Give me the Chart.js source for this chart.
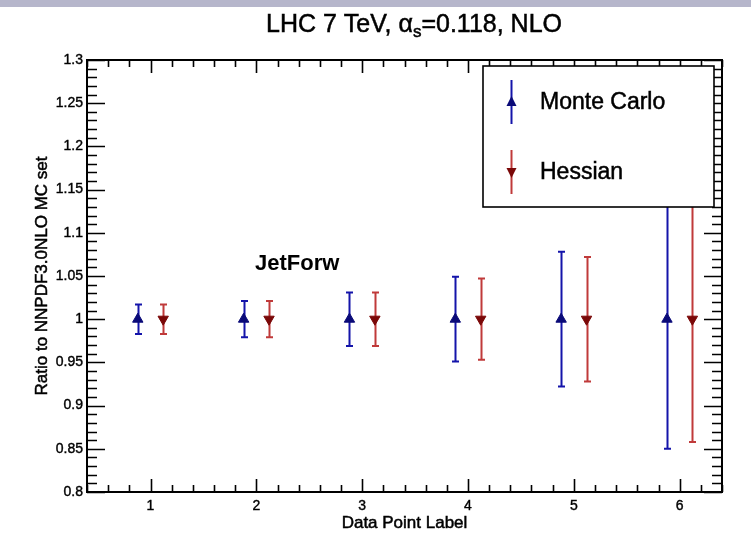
<!DOCTYPE html>
<html>
<head>
<meta charset="utf-8">
<script src="https://cdn.jsdelivr.net/npm/chart.js@4/dist/chart.umd.min.js"></script>
<style>
  html, body { margin: 0; padding: 0; background: #fff; }
  #ratioChart { display: block; }
</style>
</head>
<body>
<canvas id="ratioChart" width="751" height="545"></canvas>
<script>
const pointLabels = [1, 2, 3, 4, 5, 6];
const seriesOffset = 0.12;

const mcRatio = [1.0, 1.0, 1.0, 1.0, 1.0, 1.0];
const mcError = [0.017, 0.021, 0.031, 0.049, 0.078, 0.150];
const hessRatio = [1.0, 1.0, 1.0, 1.0, 1.0, 1.0];
const hessError = [0.017, 0.021, 0.031, 0.047, 0.072, 0.142];

const xRange = [0.4, 6.4];
const yRange = [0.8, 1.3];
const yTicks = [0.8, 0.85, 0.9, 0.95, 1.0, 1.05, 1.1, 1.15, 1.2, 1.25, 1.3];

const FONT = '"Liberation Sans", Arial, Helvetica, sans-serif';

function toPoints(offset, ratio) {
  return pointLabels.map((p, i) => ({ x: p + offset, y: ratio[i] }));
}

// major/minor tick values for the frame
function tickValues(min, max, step) {
  const out = [];
  const n = Math.round((max - min) / step);
  for (let i = 0; i <= n; i++) out.push(+(min + i * step).toFixed(4));
  return out;
}

// text with a thin outline so it reads a little heavier
function heavyText(ctx, text, x, y) {
  ctx.lineWidth = 0.5;
  ctx.strokeStyle = ctx.fillStyle;
  ctx.strokeText(text, x, y);
  ctx.fillText(text, x, y);
}

const frame = {
  id: 'frame',
  beforeDraw(chart) {
    const ctx = chart.ctx;
    ctx.save();
    ctx.fillStyle = '#fff';
    ctx.fillRect(0, 0, chart.width, chart.height);
    ctx.fillStyle = '#b6b6cb';
    ctx.fillRect(0, 0, chart.width, 7);
    ctx.restore();
  },
  beforeDatasetsDraw(chart) {
    const ctx = chart.ctx;
    const x = chart.scales.x, y = chart.scales.y;
    const a = chart.chartArea;

    ctx.save();
    ctx.strokeStyle = '#000';
    ctx.lineWidth = 1.6;
    ctx.beginPath();
    // y ticks on left and right
    tickValues(yRange[0], yRange[1], 0.01).forEach(v => {
      const major = Math.abs(v * 20 - Math.round(v * 20)) < 1e-6;
      const len = major ? 18 : 10;
      const py = Math.round(y.getPixelForValue(v)) + 0.5;
      ctx.moveTo(a.left, py); ctx.lineTo(a.left + len, py);
      ctx.moveTo(a.right, py); ctx.lineTo(a.right - len, py);
    });
    // x ticks on bottom and top
    tickValues(xRange[0], xRange[1], 0.2).forEach(v => {
      const major = Math.abs(v - Math.round(v)) < 1e-6;
      const len = major ? 13 : 7;
      const px = Math.round(x.getPixelForValue(v)) + 0.5;
      ctx.moveTo(px, a.bottom); ctx.lineTo(px, a.bottom - len);
      ctx.moveTo(px, a.top); ctx.lineTo(px, a.top + len);
    });
    ctx.stroke();

    ctx.lineWidth = 2;
    ctx.strokeRect(a.left, a.top, a.right - a.left, a.bottom - a.top);

    // vertical error bars with small caps
    const bars = [
      { offset: -seriesOffset, ratio: mcRatio, err: mcError, color: '#1414aa' },
      { offset: seriesOffset, ratio: hessRatio, err: hessError, color: '#c03a3a' }
    ];
    ctx.beginPath();
    ctx.rect(a.left, a.top, a.right - a.left, a.bottom - a.top);
    ctx.clip();
    ctx.lineWidth = 2;
    bars.forEach(b => {
      ctx.strokeStyle = b.color;
      ctx.beginPath();
      pointLabels.forEach((p, i) => {
        const px = Math.round(x.getPixelForValue(p + b.offset)) + 0.5;
        const top = y.getPixelForValue(b.ratio[i] + b.err[i]);
        const bot = y.getPixelForValue(b.ratio[i] - b.err[i]);
        ctx.moveTo(px, top); ctx.lineTo(px, bot);
        ctx.moveTo(px - 3.5, top); ctx.lineTo(px + 3.5, top);
        ctx.moveTo(px - 3.5, bot); ctx.lineTo(px + 3.5, bot);
      });
      ctx.stroke();
    });
    ctx.restore();
  },
  afterDraw(chart) {
    const ctx = chart.ctx;
    const a = chart.chartArea;
    ctx.save();
    ctx.fillStyle = '#000';

    // title with alpha_s subscript
    const mainFont = '25px ' + FONT;
    const subFont = '17px ' + FONT;
    const parts = [
      { t: 'LHC 7 TeV, \u03b1', f: mainFont, dy: 0 },
      { t: 's', f: subFont, dy: 5 },
      { t: '=0.118, NLO', f: mainFont, dy: 0 }
    ];
    let total = 0;
    parts.forEach(p => { ctx.font = p.f; p.w = ctx.measureText(p.t).width; total += p.w; });
    let tx = 414 - total / 2;
    ctx.textBaseline = 'alphabetic';
    ctx.textAlign = 'left';
    parts.forEach(p => { ctx.font = p.f; heavyText(ctx, p.t, tx, 32 + p.dy); tx += p.w; });

    // axis titles
    ctx.font = '17px ' + FONT;
    ctx.textAlign = 'center';
    ctx.textBaseline = 'middle';
    heavyText(ctx, 'Data Point Label', (a.left + a.right) / 2, 523);
    ctx.save();
    ctx.translate(42, (a.top + a.bottom) / 2);
    ctx.rotate(-Math.PI / 2);
    heavyText(ctx, 'Ratio to NNPDF3.0NLO MC set', 0, 0);
    ctx.restore();

    // dataset tag
    ctx.font = 'bold 22px ' + FONT;
    ctx.textAlign = 'left';
    ctx.textBaseline = 'alphabetic';
    ctx.fillText('JetForw', 255, 270);

    // legend box
    const lx = 483, ly = 66, lw = 231, lh = 141;
    ctx.fillStyle = '#fff';
    ctx.fillRect(lx, ly, lw, lh);
    ctx.strokeStyle = '#000';
    ctx.lineWidth = 1.6;
    ctx.strokeRect(lx, ly, lw, lh);

    const entries = [
      { label: chart.data.datasets[0].label, cy: 102, line: '#1414aa', fill: '#0a0a78', up: true },
      { label: chart.data.datasets[1].label, cy: 172, line: '#c03a3a', fill: '#7a0808', up: false }
    ];
    entries.forEach(e => {
      ctx.strokeStyle = e.line;
      ctx.lineWidth = 2;
      ctx.beginPath();
      ctx.moveTo(511.5, e.cy - 22); ctx.lineTo(511.5, e.cy + 22);
      ctx.stroke();
      ctx.fillStyle = e.fill;
      ctx.beginPath();
      if (e.up) {
        ctx.moveTo(511.5, e.cy - 6); ctx.lineTo(516.5, e.cy + 4); ctx.lineTo(506.5, e.cy + 4);
      } else {
        ctx.moveTo(511.5, e.cy + 6); ctx.lineTo(516.5, e.cy - 4); ctx.lineTo(506.5, e.cy - 4);
      }
      ctx.closePath();
      ctx.fill();
      ctx.fillStyle = '#000';
      ctx.font = '23px ' + FONT;
      ctx.textBaseline = 'middle';
      heavyText(ctx, e.label, 540, e.cy + 1);
    });
    ctx.restore();
  }
};

new Chart(document.getElementById('ratioChart'), {
  type: 'scatter',
  data: {
    datasets: [
      {
        label: 'Monte Carlo',
        data: toPoints(-seriesOffset, mcRatio),
        pointStyle: 'triangle',
        pointRadius: 6,
        pointHoverRadius: 6,
        backgroundColor: '#0a0a78',
        borderColor: '#0a0a78',
        borderWidth: 1
      },
      {
        label: 'Hessian',
        data: toPoints(seriesOffset, hessRatio),
        pointStyle: 'triangle',
        pointRotation: 180,
        pointRadius: 6,
        pointHoverRadius: 6,
        backgroundColor: '#7a0808',
        borderColor: '#7a0808',
        borderWidth: 1
      }
    ]
  },
  options: {
    responsive: false,
    animation: false,
    devicePixelRatio: 1,
    layout: { padding: { top: 60, right: 29, left: 0, bottom: 0 } },
    plugins: { legend: { display: false }, tooltip: { enabled: false } },
    scales: {
      x: {
        type: 'linear',
        min: xRange[0],
        max: xRange[1],
        afterBuildTicks: axis => { axis.ticks = pointLabels.map(v => ({ value: v })); },
        afterFit: axis => { axis.height = 53; },
        grid: { display: false, drawTicks: false },
        border: { display: false },
        ticks: {
          font: { family: FONT, size: 14 },
          color: '#000',
          textStrokeColor: '#000',
          textStrokeWidth: 0.4,
          padding: 6
        }
      },
      y: {
        type: 'linear',
        min: yRange[0],
        max: yRange[1],
        afterBuildTicks: axis => { axis.ticks = yTicks.map(v => ({ value: v })); },
        afterFit: axis => { axis.width = 87; },
        grid: { display: false, drawTicks: false },
        border: { display: false },
        ticks: {
          font: { family: FONT, size: 14 },
          color: '#000',
          textStrokeColor: '#000',
          textStrokeWidth: 0.4,
          padding: 4,
          callback: v => String(+v.toFixed(2))
        }
      }
    }
  },
  plugins: [frame]
});
</script>
</body>
</html>
